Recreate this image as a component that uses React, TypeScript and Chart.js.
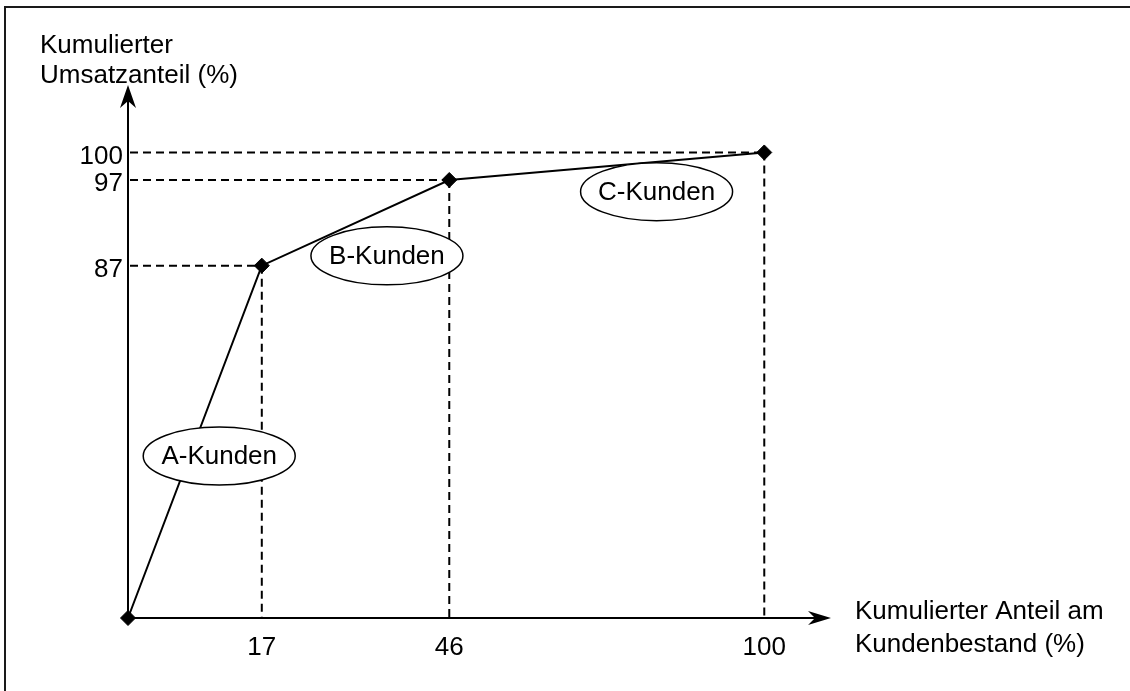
import React, { useEffect, useRef } from 'react';
import { Chart, registerables, LinearScale } from 'chart.js';

Chart.register(...registerables);

// ---- data ----
const xValues = [0, 17, 46, 100];
const yValues = [0, 87, 97, 100];
const xTickValues = [17, 46, 100];
const yTickValues = [87, 97, 100];
const segmentLabels = ['A-Kunden', 'B-Kunden', 'C-Kunden'];
const segmentLabelX = [11, 36, 81];
const segmentLabelY = [59, 88.2, 95.7];
const xTitleLines = ['Kumulierter Anteil am', 'Kundenbestand (%)'];
const yTitleLines = ['Kumulierter', 'Umsatzanteil (%)'];

const FONT = '26px "Liberation Sans", Arial, Helvetica, sans-serif';

// A power-transformed linear scale (schematic axis)
class PowScale extends LinearScale {
  static id = 'pow';
  static defaults = LinearScale.defaults;
  getPixelForValue(value: number) {
    if (value === null || value === undefined) return NaN;
    const exp = (this.options as any).exponent ?? 1;
    const range = this.max - this.min;
    let d = range ? (value - this.min) / range : 0;
    d = d <= 0 ? 0 : Math.pow(d, exp);
    return this.getPixelForDecimal(d);
  }
  getValueForPixel(pixel: number) {
    const exp = (this.options as any).exponent ?? 1;
    const d = Math.max(0, this.getDecimalForPixel(pixel));
    return this.min + Math.pow(d, 1 / exp) * (this.max - this.min);
  }
}
Chart.register(PowScale as any);

const decorPlugin = {
  id: 'decor',
  beforeDatasetsDraw(chart: any) {
    const { ctx, chartArea } = chart;
    const xs = chart.scales.x;
    const ys = chart.scales.y;
    const x0 = chartArea.left;
    const y0 = chartArea.bottom;
    ctx.save();
    // dashed drop lines
    ctx.strokeStyle = '#000';
    ctx.lineWidth = 2;
    ctx.setLineDash([8, 5]);
    for (let i = 0; i < xValues.length; i++) {
      if (xValues[i] === 0 && yValues[i] === 0) continue;
      const px = xs.getPixelForValue(xValues[i]);
      const py = ys.getPixelForValue(yValues[i]);
      ctx.beginPath();
      ctx.moveTo(x0 + 2, py);
      ctx.lineTo(px, py);
      ctx.stroke();
      ctx.beginPath();
      ctx.moveTo(px, py);
      ctx.lineTo(px, y0 - 1);
      ctx.stroke();
    }
    ctx.setLineDash([]);
    // axes
    ctx.lineWidth = 2;
    ctx.beginPath();
    ctx.moveTo(x0, y0);
    ctx.lineTo(x0, chartArea.top + 12);
    ctx.moveTo(x0, y0);
    ctx.lineTo(chartArea.right - 12, y0);
    ctx.stroke();
    ctx.fillStyle = '#000';
    // y arrow
    const tY = chartArea.top;
    ctx.beginPath();
    ctx.moveTo(x0, tY);
    ctx.lineTo(x0 + 8, tY + 23);
    ctx.lineTo(x0, tY + 16);
    ctx.lineTo(x0 - 8, tY + 23);
    ctx.closePath();
    ctx.fill();
    // x arrow
    const tX = chartArea.right;
    ctx.beginPath();
    ctx.moveTo(tX, y0);
    ctx.lineTo(tX - 23, y0 - 7);
    ctx.lineTo(tX - 16, y0);
    ctx.lineTo(tX - 23, y0 + 7);
    ctx.closePath();
    ctx.fill();
    ctx.restore();
  },
  afterDatasetsDraw(chart: any) {
    const { ctx, chartArea } = chart;
    const xs = chart.scales.x;
    const ys = chart.scales.y;
    ctx.save();
    ctx.font = FONT;
    ctx.fillStyle = '#000';
    ctx.strokeStyle = '#000';
    // segment ellipses
    for (let i = 0; i < segmentLabels.length; i++) {
      const cx = xs.getPixelForValue(segmentLabelX[i]);
      const cy = ys.getPixelForValue(segmentLabelY[i]);
      ctx.beginPath();
      ctx.ellipse(cx, cy, 76, 29, 0, 0, Math.PI * 2);
      ctx.fillStyle = '#fff';
      ctx.fill();
      ctx.lineWidth = 1.5;
      ctx.stroke();
      ctx.fillStyle = '#000';
      ctx.textAlign = 'center';
      ctx.textBaseline = 'middle';
      ctx.fillText(segmentLabels[i], cx, cy + 1);
    }
    // x tick labels
    ctx.textAlign = 'center';
    ctx.textBaseline = 'alphabetic';
    (xs.ticks || []).forEach((t: any) => {
      ctx.fillText(String(t.value), xs.getPixelForValue(t.value), chartArea.bottom + 37);
    });
    // y tick labels
    ctx.textAlign = 'right';
    ctx.textBaseline = 'middle';
    (ys.ticks || []).forEach((t: any) => {
      ctx.fillText(String(t.value), chartArea.left - 5, ys.getPixelForValue(t.value) + 4);
    });
    // titles
    ctx.textAlign = 'left';
    ctx.textBaseline = 'alphabetic';
    ctx.fillText(yTitleLines[0], 40, chartArea.top - 32);
    ctx.fillText(yTitleLines[1], 40, chartArea.top - 2);
    ctx.fillText(xTitleLines[0], chartArea.right + 24, chartArea.bottom + 1);
    ctx.fillText(xTitleLines[1], chartArea.right + 24, chartArea.bottom + 34);
    // frame
    ctx.strokeStyle = '#1a1a1a';
    ctx.lineWidth = 2;
    ctx.beginPath();
    ctx.moveTo(5, chart.height + 5);
    ctx.lineTo(5, 7);
    ctx.lineTo(chart.width + 5, 7);
    ctx.stroke();
    ctx.restore();
  },
};

export default function App() {
  const canvasRef = useRef<HTMLCanvasElement | null>(null);

  useEffect(() => {
    if (!canvasRef.current) return;
    const chart = new Chart(canvasRef.current, {
      type: 'line',
      data: {
        datasets: [
          {
            data: xValues.map((x, i) => ({ x, y: yValues[i] })),
            borderColor: '#000',
            borderWidth: 2,
            tension: 0,
            pointStyle: 'rectRot',
            pointRadius: 7.5,
            pointBackgroundColor: '#000',
            pointBorderColor: '#000',
            pointBorderWidth: 1,
            clip: false as any,
          },
        ],
      },
      options: {
        animation: false,
        responsive: true,
        maintainAspectRatio: false,
        layout: { padding: { left: 128, top: 85, right: 299, bottom: 73 } },
        plugins: { legend: { display: false }, tooltip: { enabled: false } },
        scales: {
          x: {
            type: 'pow' as any,
            exponent: 0.88,
            min: 0,
            max: 112,
            grid: { display: false, drawTicks: false },
            border: { display: false },
            ticks: { display: false },
            afterBuildTicks: (scale: any) => {
              scale.ticks = xTickValues.map((v) => ({ value: v }));
            },
          } as any,
          y: {
            type: 'pow' as any,
            exponent: 2,
            min: 0,
            max: 107,
            grid: { display: false, drawTicks: false },
            border: { display: false },
            ticks: { display: false },
            afterBuildTicks: (scale: any) => {
              scale.ticks = yTickValues.map((v) => ({ value: v }));
            },
          } as any,
        },
      },
      plugins: [decorPlugin],
    });
    return () => chart.destroy();
  }, []);

  return (
    <div style={{ position: 'fixed', left: 0, top: 0, width: 1130, height: 691, background: '#fff' }}>
      <canvas ref={canvasRef} />
    </div>
  );
}
